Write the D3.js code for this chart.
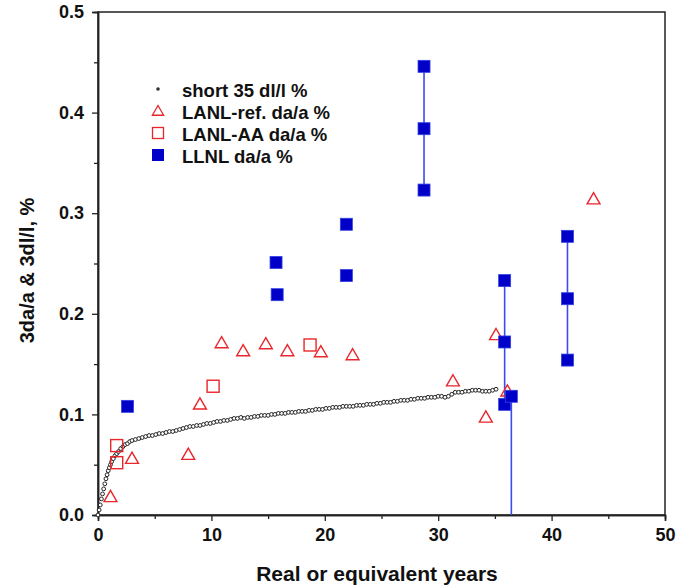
<!DOCTYPE html>
<html>
<head>
<meta charset="utf-8">
<script src="https://cdn.jsdelivr.net/npm/d3@7"></script>
<style>
  body { margin: 0; background: #fff; }
  text { font-family: "Liberation Sans", Arial, sans-serif; font-weight: bold; }
</style>
</head>
<body>
<div id="chart"></div>
<script>
// short 35 dl/l % (dense curve of small circles)
const shortX = [0.0,0.1,0.2,0.3,0.4,0.5,0.6,0.7,0.8,0.9,1.0,1.1,1.2,1.35,1.5,1.65,1.8,2.0,2.2,2.4,2.6,2.8,3.0,3.3,3.6,3.9,4.2,4.5,4.8,5.1,5.4,5.7,6.0,6.3,6.6,6.9,7.2,7.5,7.8,8.1,8.4,8.7,9.0,9.3,9.6,9.9,10.2,10.5,10.8,11.1,11.4,11.7,12.0,12.3,12.6,12.9,13.2,13.5,13.8,14.1,14.4,14.7,15.0,15.3,15.6,15.9,16.2,16.5,16.8,17.1,17.4,17.7,18.0,18.3,18.6,18.9,19.2,19.5,19.8,20.1,20.4,20.7,21.0,21.3,21.6,21.9,22.2,22.5,22.8,23.1,23.4,23.7,24.0,24.3,24.6,24.9,25.2,25.5,25.8,26.1,26.4,26.7,27.0,27.3,27.6,27.9,28.2,28.5,28.8,29.1,29.4,29.7,30.0,30.3,30.6,30.9,31.2,31.5,31.8,32.1,32.4,32.7,33.0,33.3,33.6,33.9,34.2,34.5,34.8,35.1];
const shortY = [0.000,0.005,0.010,0.016,0.021,0.026,0.031,0.036,0.040,0.044,0.047,0.050,0.053,0.056,0.059,0.061,0.063,0.066,0.068,0.070,0.071,0.073,0.074,0.075,0.076,0.077,0.078,0.079,0.079,0.080,0.081,0.081,0.082,0.083,0.083,0.084,0.085,0.086,0.087,0.088,0.088,0.089,0.089,0.090,0.091,0.091,0.092,0.093,0.093,0.094,0.094,0.095,0.096,0.096,0.097,0.096,0.097,0.097,0.098,0.098,0.099,0.099,0.099,0.100,0.100,0.101,0.101,0.101,0.102,0.102,0.102,0.103,0.103,0.103,0.104,0.104,0.105,0.105,0.105,0.106,0.106,0.107,0.107,0.107,0.108,0.108,0.108,0.108,0.109,0.109,0.109,0.110,0.110,0.110,0.111,0.111,0.112,0.112,0.112,0.113,0.113,0.114,0.114,0.114,0.115,0.115,0.116,0.116,0.116,0.117,0.117,0.117,0.118,0.118,0.117,0.118,0.120,0.122,0.122,0.122,0.123,0.123,0.124,0.124,0.124,0.123,0.123,0.123,0.124,0.125];

// LANL-ref. da/a % (open red triangles)
const refX = [1.1, 3.0, 7.96, 8.99, 10.9, 12.8, 14.8, 16.7, 19.65, 22.45, 31.3, 34.2, 35.1, 36.1, 43.7];
const refY = [0.018, 0.056, 0.060, 0.110, 0.171, 0.163, 0.170, 0.163, 0.162, 0.159, 0.133, 0.097, 0.179, 0.123, 0.314];

// LANL-AA da/a % (open red squares)
const aaX = [1.65, 1.65, 10.15, 18.7];
const aaY = [0.052, 0.069, 0.128, 0.169];

// LLNL da/a % (filled blue squares)
const llnlX = [2.6, 15.7, 15.8, 21.9, 21.9, 28.75, 28.75, 28.75, 35.86, 35.86, 35.86, 36.45, 41.4, 41.4, 41.4];
const llnlY = [0.108, 0.251, 0.219, 0.289, 0.238, 0.446, 0.384, 0.323, 0.233, 0.172, 0.110, 0.118, 0.277, 0.215, 0.154];

// LLNL vertical range bars: x, low, high
const barX = [28.75, 35.86, 36.45, 41.4];
const barLo = [0.323, 0.110, 0.0, 0.154];
const barHi = [0.446, 0.233, 0.118, 0.277];

const xTicks = [0, 10, 20, 30, 40, 50];
const xMinor = [5, 15, 25, 35, 45];
const yTicks = [0, 0.1, 0.2, 0.3, 0.4, 0.5];
const yMinor = [0.05, 0.15, 0.25, 0.35, 0.45];

const legendLabels = ['short 35 dl/l %', 'LANL-ref. da/a %', 'LANL-AA da/a %', 'LLNL da/a %'];

const W = 683, H = 587;
const margin = { top: 12, right: 18, bottom: 72, left: 98 };
const width = W - margin.left - margin.right;
const height = H - margin.top - margin.bottom;

const svg = d3.select('#chart').append('svg')
  .attr('width', W).attr('height', H);

const g = svg.append('g').attr('transform', `translate(${margin.left},${margin.top})`);

const x = d3.scaleLinear().domain([0, 50]).range([0, width]);
const y = d3.scaleLinear().domain([0, 0.5]).range([height, 0]);

const red = '#e8262b';
const blue = '#0000c8';
const barBlue = '#3a4cf0';

// frame (top and right)
g.append('rect')
  .attr('x', 0).attr('y', 0).attr('width', width).attr('height', height)
  .attr('fill', 'none').attr('stroke', '#222').attr('stroke-width', 1.5);

// axes
g.append('g').attr('transform', `translate(0,${height})`)
  .call(d3.axisBottom(x).tickValues(xTicks).tickSize(6).tickPadding(7).tickFormat(d3.format('d')));
g.append('g').attr('transform', `translate(0,${height})`)
  .call(d3.axisBottom(x).tickValues(xMinor).tickSize(4).tickFormat(''));
g.append('g')
  .call(d3.axisLeft(y).tickValues(yTicks).tickSize(6).tickPadding(8).tickFormat(d3.format('.1f')));
g.append('g')
  .call(d3.axisLeft(y).tickValues(yMinor).tickSize(4).tickFormat(''));

g.selectAll('.domain').attr('stroke', '#222').attr('stroke-width', 1.5);
g.selectAll('.tick line').attr('stroke', '#222').attr('stroke-width', 1.3);
g.selectAll('.tick text').attr('font-size', 18).attr('fill', '#111')
  .style('font-family', '"Liberation Sans", Arial, sans-serif').style('font-weight', 'bold');

// axis titles
svg.append('text')
  .attr('x', 377).attr('y', 581)
  .attr('text-anchor', 'middle').attr('font-size', 21).attr('fill', '#111')
  .text('Real or equivalent years');
svg.append('text')
  .attr('transform', `translate(34,${margin.top + y(0.25) + 7}) rotate(-90)`)
  .attr('text-anchor', 'middle').attr('font-size', 20).attr('fill', '#111')
  .text('3da/a & 3dl/l, %');

// LLNL range bars
g.selectAll('.bar').data(barX).enter().append('line')
  .attr('x1', d => x(d)).attr('x2', d => x(d))
  .attr('y1', (d, i) => y(barLo[i])).attr('y2', (d, i) => y(barHi[i]))
  .attr('stroke', barBlue).attr('stroke-width', 1.6);

// short 35 curve
g.selectAll('.short').data(shortX).enter().append('circle')
  .attr('cx', d => x(d)).attr('cy', (d, i) => y(shortY[i]))
  .attr('r', 1.9).attr('fill', '#fff').attr('stroke', '#222').attr('stroke-width', 1);

const tri = d3.symbol().type(d3.symbolTriangle).size(72);

// LANL-ref triangles
g.selectAll('.ref').data(refX).enter().append('path')
  .attr('d', tri)
  .attr('transform', (d, i) => `translate(${x(d)},${y(refY[i]) + 1})`)
  .attr('fill', 'none').attr('stroke', red).attr('stroke-width', 1.4);

// LANL-AA squares
const sq = 12;
g.selectAll('.aa').data(aaX).enter().append('rect')
  .attr('x', d => x(d) - sq / 2).attr('y', (d, i) => y(aaY[i]) - sq / 2)
  .attr('width', sq).attr('height', sq)
  .attr('fill', 'none').attr('stroke', red).attr('stroke-width', 1.4);

// LLNL squares
const bs = 12;
g.selectAll('.llnl').data(llnlX).enter().append('rect')
  .attr('x', d => x(d) - bs / 2).attr('y', (d, i) => y(llnlY[i]) - bs / 2)
  .attr('width', bs).attr('height', bs)
  .attr('fill', blue).attr('stroke', '#3040e0').attr('stroke-width', 0.8);

// legend
const legend = svg.append('g').attr('transform', 'translate(158,0)');
const rows = [89, 111, 133, 155];
legend.append('circle').attr('cx', 0).attr('cy', rows[0]).attr('r', 1.8).attr('fill', '#333');
legend.append('path').attr('d', d3.symbol().type(d3.symbolTriangle).size(55))
  .attr('transform', `translate(0,${rows[1] + 1})`)
  .attr('fill', 'none').attr('stroke', red).attr('stroke-width', 1.3);
legend.append('rect').attr('x', -5.5).attr('y', rows[2] - 5.5).attr('width', 11).attr('height', 11)
  .attr('fill', 'none').attr('stroke', red).attr('stroke-width', 1.3);
legend.append('rect').attr('x', -6).attr('y', rows[3] - 6).attr('width', 12).attr('height', 12)
  .attr('fill', blue);
legend.selectAll('.lt').data(legendLabels).enter().append('text')
  .attr('x', 24).attr('y', (d, i) => rows[i] + 7.5)
  .attr('font-size', 18.5).attr('fill', '#111')
  .text(d => d);
</script>
</body>
</html>
